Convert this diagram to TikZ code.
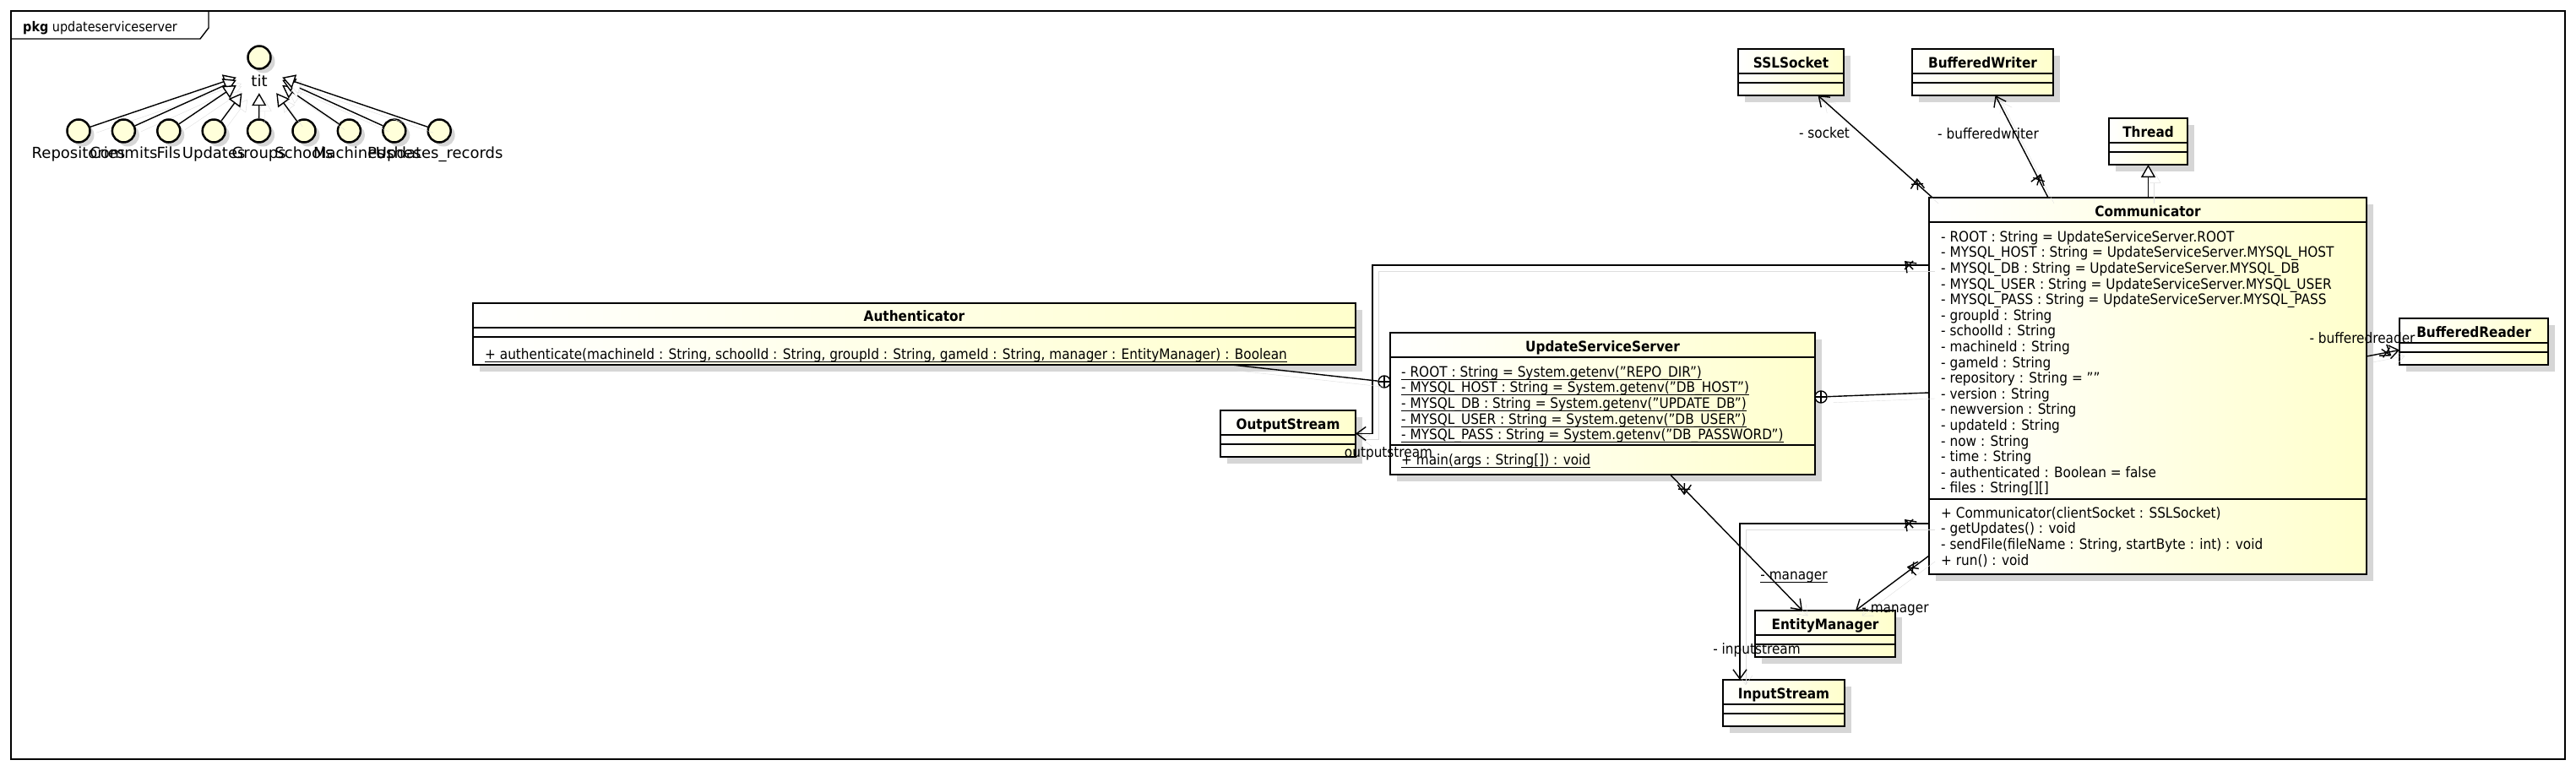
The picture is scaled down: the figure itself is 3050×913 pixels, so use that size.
\documentclass[tikz,border=0pt]{standalone}
\usepackage{fontspec}
\setmainfont{DejaVu Sans}[FakeStretch=0.9]
\newfontfamily\lblfont{DejaVu Sans}
\usetikzlibrary{arrows.meta,decorations.markings,shadows,calc}
\definecolor{umly}{RGB}{255,255,204}
\definecolor{shad}{RGB}{214,214,214}
\definecolor{lshad}{RGB}{222,222,222}
\definecolor{entfill}{RGB}{255,255,218}
\newcommand\tx{\fontsize{17}{18.6}\selectfont\lineskiplimit=-30pt\relax}
\newcommand\lbx{\lblfont\fontsize{18}{20}\selectfont}
\newcommand\umlul[1]{\setbox0\hbox{#1}\rlap{\rule[-3.5pt]{\wd0}{0.9pt}}\box0}
\tikzset{
  classbox/.style={draw, line width=2.8pt, left color=white, right color=umly,
    inner sep=0pt, outer sep=0pt, anchor=north west,
    drop shadow={shadow xshift=8pt, shadow yshift=-8pt, fill=shad, opacity=1}},
  cline/.style={line width=1.2pt},
  cname/.style={font=\tx\bfseries, anchor=base, inner sep=0pt},
  ctext/.style={font=\tx, anchor=north west, inner sep=0pt, align=left},
  clabel/.style={font=\tx, inner sep=0pt},
  conn/.style={line width=1.4pt, preaction={draw=lshad, transform canvas={shift={(7pt,-7pt)}}}},
  nav/.style={-{Straight Barb[length=11pt,width=16pt,line width=1.4pt]}},
  xend/.style={postaction={decorate, decoration={markings,
    mark=at position 24pt with {\draw[line width=1.4pt] (-5pt,-5pt)--(5pt,5pt) (-5pt,5pt)--(5pt,-5pt);}}}},
  gen/.style={-{Triangle[open, length=15pt, width=17pt, line width=1.4pt, fill=white]}},
  nest/.style={circle, draw, line width=1.4pt, fill=white, minimum size=14pt, inner sep=0pt,
    path picture={\draw[line width=1.2pt] (path picture bounding box.north) -- (path picture bounding box.south)
      (path picture bounding box.west) -- (path picture bounding box.east);}},
  ent/.style={circle, draw, line width=2.5pt, fill=entfill, minimum size=27pt, inner sep=0pt,
    drop shadow={shadow xshift=5pt, shadow yshift=-5pt, fill=shad, opacity=1}},
  entlbl/.style={font=\lbx, inner sep=0pt, anchor=base},
}
\newcommand\smallclass[5]{%
  \node[classbox, minimum width=#4pt, minimum height=55pt] (#1) at (#2,#3) {};
  \draw[cline] ([yshift=-29pt]#1.north west) -- ([yshift=-29pt]#1.north east);
  \draw[cline] ([yshift=-40pt]#1.north west) -- ([yshift=-40pt]#1.north east);
  \node[cname] (#1-n) at ($(#1.north)+(0,22)$) {#5};
}
\begin{document}
\begin{tikzpicture}[x=1pt,y=-1pt]
\useasboundingbox (0,0) rectangle (3050,913);
% package frame
\draw[line width=1.4pt] (13,13) rectangle (3037,899);
\draw[line width=1.4pt] (13,46) -- (237,46) -- (247,33) -- (247,13);
\node[anchor=base west, inner sep=0pt, font=\fontsize{16}{18}\selectfont] (pkg) at (27,37) {\textbf{pkg} updateserviceserver};

% entities
\node[ent] (et) at (307,68) {};
\node[entlbl] (etl) at (307,102) {tit};
\node[minimum width=54pt, minimum height=55pt, inner sep=0pt] (etb) at (307,82.5) {};
\foreach \i/\n in {1/Repositories,2/Commits,3/Fils,4/Updates,5/Groups,6/Schools,7/Machines,8/Pushes,9/Updates\_records} {
  \node[ent] (e\i) at ({93+53.4*(\i-1)},155) {};
  \node[entlbl] (el\i) at ({93+53.4*(\i-1)},187) {\n};
  \draw[conn, gen] (e\i) -- (etb);
}

% small classes
\smallclass{ssl}{2058}{58}{125}{SSLSocket}
\smallclass{bw}{2264}{58}{167}{BufferedWriter}
\smallclass{thread}{2497}{140}{93}{Thread}
\smallclass{br}{2841}{377}{176}{BufferedReader}
\smallclass{os}{1445}{486}{160}{OutputStream}
\smallclass{em}{2078}{723}{166}{EntityManager}
\smallclass{is}{2040}{805}{144}{InputStream}

% Authenticator
\node[classbox, minimum width=1045pt, minimum height=73pt] (auth) at (560,359) {};
\draw[cline] ([yshift=-29pt]auth.north west) -- ([yshift=-29pt]auth.north east);
\draw[cline] ([yshift=-40pt]auth.north west) -- ([yshift=-40pt]auth.north east);
\node[cname] (auth-n) at ($(auth.north)+(0,21)$) {Authenticator};
\node[ctext] (auth-m) at (574,411) {\rule{0pt}{14pt}\umlul{+ authenticate(machineId : String, schoolId : String, groupId : String, gameId : String, manager : EntityManager) : Boolean}};

% UpdateServiceServer
\node[classbox, minimum width=503pt, minimum height=168pt] (uss) at (1646,394) {};
\draw[cline] ([yshift=-29pt]uss.north west) -- ([yshift=-29pt]uss.north east);
\draw[cline] ([yshift=-133pt]uss.north west) -- ([yshift=-133pt]uss.north east);
\node[cname] (uss-n) at ($(uss.north)+(0,22)$) {UpdateServiceServer};
\node[ctext] (uss-a) at (1659,432) {\rule{0pt}{14pt}\umlul{- ROOT : String = System.getenv("REPO\_DIR")}\\
\umlul{- MYSQL\_HOST : String = System.getenv("DB\_HOST")}\\
\umlul{- MYSQL\_DB : String = System.getenv("UPDATE\_DB")}\\
\umlul{- MYSQL\_USER : String = System.getenv("DB\_USER")}\\
\umlul{- MYSQL\_PASS : String = System.getenv("DB\_PASSWORD")}};
\node[ctext] (uss-m) at (1659,536) {\rule{0pt}{14pt}\umlul{+ main(args : String[]) : void}};

% Communicator
\node[classbox, minimum width=518pt, minimum height=446pt] (comm) at (2284,234) {};
\draw[cline] ([yshift=-29pt]comm.north west) -- ([yshift=-29pt]comm.north east);
\draw[cline] ([yshift=-357pt]comm.north west) -- ([yshift=-357pt]comm.north east);
\node[cname] (comm-n) at ($(comm.north)+(0,22)$) {Communicator};
\node[ctext] (comm-a) at (2298,272) {\rule{0pt}{14pt}- ROOT : String = UpdateServiceServer.ROOT\\
- MYSQL\_HOST : String = UpdateServiceServer.MYSQL\_HOST\\
- MYSQL\_DB : String = UpdateServiceServer.MYSQL\_DB\\
- MYSQL\_USER : String = UpdateServiceServer.MYSQL\_USER\\
- MYSQL\_PASS : String = UpdateServiceServer.MYSQL\_PASS\\
- groupId : String\\
- schoolId : String\\
- machineId : String\\
- gameId : String\\
- repository : String = ""\\
- version : String\\
- newversion : String\\
- updateId : String\\
- now : String\\
- time : String\\
- authenticated : Boolean = false\\
- files : String[][]};
\node[ctext] (comm-m) at (2298,599) {\rule{0pt}{14pt}+ Communicator(clientSocket : SSLSocket)\\
- getUpdates() : void\\
- sendFile(fileName : String, startByte : int) : void\\
+ run() : void};

% connectors
\draw[conn, nav, xend] ([xshift=4pt]comm.north west) -- ([xshift=32pt]ssl.south);
\draw[conn, nav, xend] ([xshift=141pt]comm.north west) -- ([xshift=15pt]bw.south);
\draw[conn, gen] (thread.south |- comm.north) -- (thread.south);
\draw[conn, nav, xend] ([yshift=35pt]comm.east) -- ([yshift=-10pt]br.west);
\draw[conn, nav, xend] ([yshift=-80pt]comm.north west) -| ([xshift=20pt]os.east) -- (os.east);
\draw[conn, nav, xend] ([yshift=-386pt]comm.north west) -| ([xshift=-52pt]is.north);
\draw[conn, nav, xend] ([yshift=-424pt]comm.north west) -- ([xshift=36pt]em.north);
\draw[conn, nav, xend] ([xshift=80pt]uss.south) -- ([xshift=-27pt]em.north);
\node[nest] (nest1) at ([xshift=-7pt,yshift=26pt]uss.west) {};
\draw[conn] ([xshift=376pt]auth.south) -- (nest1);
\node[nest] (nest2) at ([xshift=7pt,yshift=8pt]uss.east) {};
\draw[conn] (nest2) -- ([yshift=-231pt]comm.north west);

% connector labels
\node[clabel] (lsock) at (2160,157) {- socket};
\node[clabel] (lbw) at (2354,158) {- bufferedwriter};
\node[clabel] (lbr) at (2797,400) {- bufferedreader};
\node[clabel] (los) at (1644,537) {outputstream};
\node[clabel] (lis) at (2080,770) {- inputstream};
\node[clabel] (lem1) at (2244,722) {- manager};
\node[clabel] (lem2) at (2124,683) {\umlul{- manager}};
\end{tikzpicture}
\end{document}
